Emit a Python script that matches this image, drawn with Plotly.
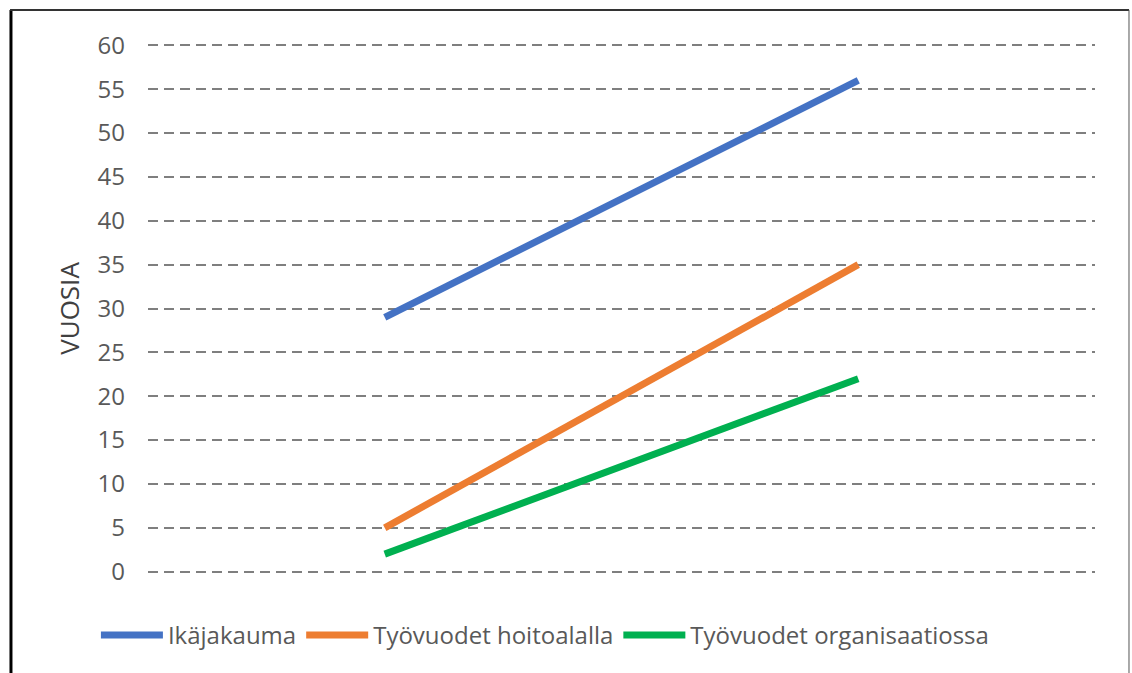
import plotly.graph_objects as go

categories = ["1", "2"]
ika = [29, 56]
hoito = [5, 35]
org = [2, 22]
names = ["Ikäjakauma", "Työvuodet hoitoalalla", "Työvuodet organisaatiossa"]
colors = ["#4472C4", "#ED7D31", "#00B050"]
yticks = list(range(0, 61, 5))

fig = go.Figure()
for name, vals, col in zip(names, [ika, hoito, org], colors):
    fig.add_trace(go.Scatter(x=categories, y=vals, name=name, mode="lines",
                             line=dict(color=col, width=7)))

fig.update_layout(
    width=1132, height=673,
    margin=dict(l=148, r=37, t=44, b=100),
    paper_bgcolor="white", plot_bgcolor="white",
    font=dict(family="Open Sans", color="#595959", size=22),
    showlegend=True,
    legend=dict(orientation="h", x=-0.055, xanchor="left", y=-0.118, yanchor="middle",
                font=dict(size=24, color="#595959"), itemwidth=62),
    xaxis=dict(type="category", range=[-0.5, 1.5], showticklabels=False,
               showgrid=False, zeroline=False, showline=False, ticks=""),
    yaxis=dict(range=[-0.15, 60.15], tickvals=yticks, ticks="", showline=False, zeroline=False,
               showgrid=True, gridcolor="#7f7f7f", gridwidth=2, griddash="10px,6px",
               ticklabelstandoff=22, tickfont=dict(size=24, color="#595959"),
               title=dict(text="VUOSIA", font=dict(size=26, color="#404040"), standoff=10)),
    shapes=[
        dict(type="line", xref="paper", yref="paper", x0=-0.1447, x1=-0.1447, y0=1.0645, y1=-0.3,
             line=dict(color="black", width=3)),
        dict(type="line", xref="paper", yref="paper", x0=-0.1457, x1=1.0359, y0=1.0645, y1=1.0645,
             line=dict(color="#333333", width=2)),
        dict(type="line", xref="paper", yref="paper", x0=1.0359, x1=1.0359, y0=1.0645, y1=-0.3,
             line=dict(color="#555555", width=1)),
    ],
)
fig.write_html("out.html")
